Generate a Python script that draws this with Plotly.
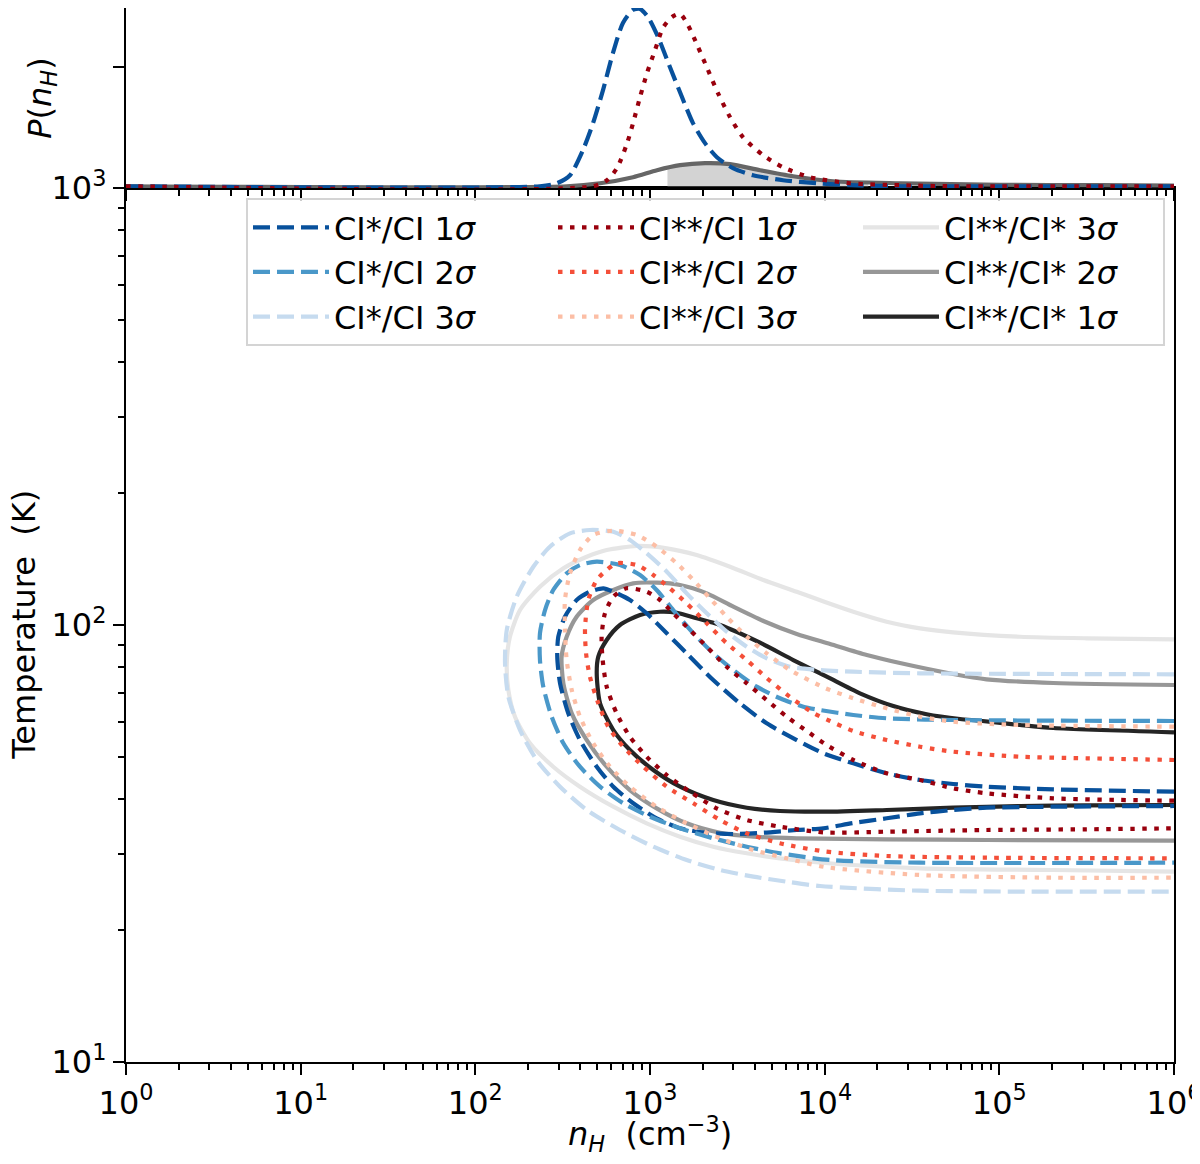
import numpy as np
import plotly.graph_objects as go

# ---- top panel: marginal P(n_H), log10(n_H) vs density
pb_lognh = [0.0, 2.370, 2.467, 2.542, 2.616, 2.674, 2.731, 2.788, 2.845, 2.902, 2.943, 2.988,
            3.046, 3.114, 3.183, 3.246, 3.315, 3.383, 3.475, 3.590, 3.761, 3.956, 4.145, 4.431, 6.0]
pb_p = [0, 0, 0.050, 0.185, 0.605, 1.059, 1.613, 2.235, 2.739, 2.958, 2.975, 2.840,
        2.504, 2.0, 1.496, 1.059, 0.723, 0.487, 0.303, 0.185, 0.101, 0.050, 0.017, 0, 0]

pr_lognh = [0.0, 2.674, 2.754, 2.811, 2.869, 2.903, 2.943, 2.983, 3.029, 3.074, 3.126, 3.172,
            3.217, 3.275, 3.332, 3.389, 3.458, 3.532, 3.647, 3.761, 3.916, 4.145, 4.431, 4.717, 6.0]
pr_p = [0, 0, 0.101, 0.303, 0.723, 1.059, 1.496, 1.899, 2.286, 2.655, 2.840, 2.891,
        2.706, 2.336, 1.950, 1.563, 1.160, 0.824, 0.521, 0.319, 0.151, 0.050, 0.017, 0, 0]

pg_lognh = [0.0, 2.525, 2.714, 2.903, 3.040, 3.172, 3.315, 3.458, 3.630, 3.819, 4.048, 4.431, 5.004, 5.576, 6.0]
pg_p = [0, 0, 0.050, 0.151, 0.269, 0.353, 0.387, 0.370, 0.269, 0.168, 0.084, 0.050, 0.025, 0.017, 0.012]

# shaded interval under the CI**/CI* marginal
pf_lognh = [3.10, 3.172, 3.315, 3.458, 3.630, 3.819, 4.048, 4.25]
pf_p = [0.31, 0.353, 0.387, 0.370, 0.269, 0.168, 0.084, 0.062]

# ---- contours: log10(n_H), log10(T)
b1_lognh = [6.0, 5.309, 4.927, 4.736, 4.546, 4.355, 4.164, 4.002, 3.840, 3.668, 3.515, 3.362, 3.210,
            3.096, 2.981, 2.885, 2.790, 2.733, 2.656, 2.580, 2.513, 2.475, 2.469, 2.485, 2.532, 2.599,
            2.695, 2.790, 2.904, 3.038, 3.172, 3.325, 3.477, 3.649, 3.840, 3.992, 4.162, 4.355, 4.546,
            4.734, 4.927, 5.307, 6.0]
b1_logt = [1.6185, 1.6240, 1.6300, 1.6362, 1.6453, 1.6606, 1.6835, 1.7048, 1.7368, 1.7750, 1.8208,
           1.8741, 1.9352, 1.9810, 2.0268, 2.0572, 2.0762, 2.0840, 2.0762, 2.0572, 2.0190, 1.9732,
           1.9275, 1.8666, 1.7979, 1.7368, 1.6757, 1.6300, 1.5920, 1.5577, 1.5348, 1.5247, 1.5217,
           1.5247, 1.5309, 1.5348, 1.5469, 1.5577, 1.5691, 1.5767, 1.5819, 1.5842, 1.5858]

b2_lognh = [6.0, 4.736, 4.355, 4.164, 3.973, 3.878, 3.744, 3.611, 3.477, 3.362, 3.248, 3.133, 3.038,
            2.943, 2.828, 2.695, 2.599, 2.523, 2.446, 2.399, 2.370, 2.370, 2.389, 2.437, 2.504, 2.599,
            2.714, 2.847, 3.000, 3.172, 3.362, 3.554, 3.744, 4.031, 4.546, 6.0]
b2_logt = [1.7803, 1.7826, 1.7865, 1.7941, 1.8055, 1.8130, 1.8323, 1.8589, 1.8970, 1.9352, 1.9810,
           2.0343, 2.0801, 2.1144, 2.1373, 2.1449, 2.1373, 2.1183, 2.0801, 2.0343, 1.9810, 1.9199,
           1.8589, 1.7902, 1.7293, 1.6757, 1.6300, 1.5920, 1.5613, 1.5348, 1.5119, 1.4927, 1.4776,
           1.4622, 1.4561, 1.4561]

b3_lognh = [6.0, 4.546, 4.162, 3.973, 3.802, 3.668, 3.554, 3.439, 3.325, 3.210, 3.096, 2.981, 2.885,
            2.790, 2.656, 2.542, 2.427, 2.332, 2.237, 2.180, 2.170, 2.189, 2.256, 2.351, 2.485, 2.638,
            2.828, 3.019, 3.210, 3.401, 3.592, 3.783, 3.973, 4.546, 6.0]
b3_logt = [1.8872, 1.8895, 1.8931, 1.8970, 1.9046, 1.9238, 1.9503, 1.9847, 2.0268, 2.0725, 2.1220,
           2.1641, 2.1945, 2.2135, 2.2174, 2.2098, 2.1792, 2.1334, 2.0648, 1.9886, 1.9124, 1.8359,
           1.7597, 1.6911, 1.6300, 1.5767, 1.5309, 1.4927, 1.4622, 1.4394, 1.4241, 1.4126, 1.4027,
           1.3920, 1.3897]

r1_lognh = [6.0, 5.309, 4.927, 4.736, 4.546, 4.355, 4.164, 4.002, 3.916, 3.783, 3.668, 3.554, 3.439,
            3.325, 3.229, 3.133, 3.057, 2.981, 2.866, 2.790, 2.742, 2.723, 2.729, 2.752, 2.809, 2.885,
            2.981, 3.096, 3.229, 3.381, 3.554, 3.744, 4.002, 4.355, 4.927, 5.500, 6.0]
r1_logt = [1.5979, 1.6034, 1.6149, 1.6263, 1.6453, 1.6606, 1.6911, 1.7277, 1.7522, 1.7902, 1.8284,
           1.8666, 1.9046, 1.9503, 1.9886, 2.0268, 2.0572, 2.0762, 2.0840, 2.0648, 2.0268, 1.9732,
           1.9199, 1.8589, 1.7979, 1.7444, 1.6986, 1.6567, 1.6185, 1.5805, 1.5538, 1.5384, 1.5252,
           1.5270, 1.5309, 1.5325, 1.5348]

r2_lognh = [6.0, 5.500, 5.118, 4.736, 4.546, 4.355, 4.164, 4.031, 3.935, 3.802, 3.668, 3.554, 3.439,
            3.325, 3.210, 3.114, 3.019, 2.924, 2.809, 2.752, 2.695, 2.647, 2.628, 2.634, 2.656, 2.704,
            2.761, 2.847, 2.962, 3.096, 3.248, 3.401, 3.554, 3.744, 4.002, 4.355, 4.927, 6.0]
r2_logt = [1.6911, 1.6950, 1.6986, 1.7101, 1.7215, 1.7368, 1.7574, 1.7803, 1.7986, 1.8352, 1.8787,
           1.9199, 1.9581, 2.0039, 2.0496, 2.0840, 2.1144, 2.1373, 2.1412, 2.1259, 2.1030, 2.0572,
           1.9924, 1.9352, 1.8817, 1.8208, 1.7673, 1.7215, 1.6757, 1.6300, 1.5920, 1.5538, 1.5233,
           1.5005, 1.4817, 1.4714, 1.4675, 1.4661]

r3_lognh = [6.0, 5.118, 4.736, 4.546, 4.355, 4.164, 4.002, 3.802, 3.668, 3.554, 3.439, 3.343, 3.248,
            3.153, 3.038, 2.924, 2.790, 2.675, 2.599, 2.542, 2.513, 2.513, 2.523, 2.552, 2.599, 2.675,
            2.771, 2.885, 3.038, 3.210, 3.401, 3.592, 3.783, 4.002, 4.546, 5.307, 6.0]
r3_logt = [1.7673, 1.7712, 1.7787, 1.7902, 1.8094, 1.8323, 1.8558, 1.8970, 1.9352, 1.9732, 2.0190,
           2.0611, 2.1030, 2.1412, 2.1792, 2.2059, 2.2158, 2.2059, 2.1716, 2.1183, 2.0572, 1.9886,
           1.9199, 1.8513, 1.7902, 1.7293, 1.6757, 1.6300, 1.5842, 1.5462, 1.5119, 1.4851, 1.4661,
           1.4462, 1.4279, 1.4218, 1.4218]

g3_lognh = [6.0, 5.500, 5.118, 4.736, 4.546, 4.355, 4.164, 4.002, 3.840, 3.649, 3.458, 3.267, 3.096,
            2.924, 2.752, 2.638, 2.504, 2.370, 2.256, 2.198, 2.180, 2.189, 2.227, 2.313, 2.446, 2.599,
            2.790, 2.981, 3.172, 3.362, 3.554, 3.744, 4.002, 4.546, 5.307, 6.0]
g3_logt = [1.9673, 1.9696, 1.9732, 1.9833, 1.9924, 2.0076, 2.0304, 2.0526, 2.0762, 2.1030, 2.1334,
           2.1602, 2.1755, 2.1808, 2.1716, 2.1563, 2.1297, 2.0876, 2.0343, 1.9732, 1.9124, 1.8513,
           1.7902, 1.7293, 1.6757, 1.6300, 1.5842, 1.5462, 1.5156, 1.4927, 1.4776, 1.4661, 1.4554,
           1.4433, 1.4394, 1.4355]

g2_lognh = [6.0, 5.309, 4.927, 4.736, 4.431, 4.241, 4.031, 3.840, 3.649, 3.477, 3.325, 3.172,
            3.038, 2.904, 2.790, 2.675, 2.580, 2.523, 2.494, 2.504, 2.552, 2.638, 2.752, 2.885, 3.038,
            3.210, 3.401, 3.592, 3.840, 4.355, 4.927, 6.0]
g2_logt = [1.8627, 1.8673, 1.8757, 1.8879, 1.9130, 1.9314, 1.9565, 1.9794, 2.0092, 2.0419,
           2.0725, 2.0915, 2.0968, 2.0954, 2.0801, 2.0572, 2.0190, 1.9732, 1.9275, 1.8666, 1.7979,
           1.7368, 1.6757, 1.6224, 1.5805, 1.5462, 1.5247, 1.5156, 1.5119, 1.5096, 1.5080, 1.5064]

g1_lognh = [6.0, 5.309, 5.118, 4.889, 4.775, 4.584, 4.393, 4.202, 4.012, 3.820, 3.630, 3.401,
            3.267, 3.153, 3.057, 2.943, 2.828, 2.752, 2.704, 2.695, 2.714, 2.790, 2.885, 3.019,
            3.172, 3.362, 3.554, 3.744, 4.002, 4.355, 4.736, 5.118, 5.500, 6.0]
g1_logt = [1.7545, 1.7643, 1.7712, 1.7810, 1.7849, 1.7957, 1.8146, 1.8437, 1.8817, 1.9199,
           1.9595, 2.0000, 2.0153, 2.0281, 2.0304, 2.0229, 2.0000, 1.9657, 1.9275, 1.8895,
           1.8208, 1.7597, 1.7140, 1.6682, 1.6300, 1.5995, 1.5819, 1.5744, 1.5728, 1.5767,
           1.5819, 1.5858, 1.5874, 1.5881]

x_tick_exp = [0, 1, 2, 3, 4, 5, 6]
y_tick_exp = [1, 2, 3]

FONT = "DejaVu Sans"
DASH = "17px,7px"
DOT = "4.5px,7.5px"
LW = 4.2

fig = go.Figure()

# draw order: greys, blues, reds ; legend order is row-major via legendrank
contours = [
    ("CI**/CI* 3<i>σ</i>", g3_lognh, g3_logt, "#e5e5e5", "solid", 3),
    ("CI**/CI* 2<i>σ</i>", g2_lognh, g2_logt, "#979797", "solid", 6),
    ("CI**/CI* 1<i>σ</i>", g1_lognh, g1_logt, "#252525", "solid", 9),
    ("CI*/CI 1<i>σ</i>", b1_lognh, b1_logt, "#08519c", DASH, 1),
    ("CI*/CI 2<i>σ</i>", b2_lognh, b2_logt, "#4a98c9", DASH, 4),
    ("CI*/CI 3<i>σ</i>", b3_lognh, b3_logt, "#c6dbef", DASH, 7),
    ("CI**/CI 1<i>σ</i>", r1_lognh, r1_logt, "#99000d", DOT, 2),
    ("CI**/CI 2<i>σ</i>", r2_lognh, r2_logt, "#f44f39", DOT, 5),
    ("CI**/CI 3<i>σ</i>", r3_lognh, r3_logt, "#fcbea5", DOT, 8),
]
for name, lx, lt, color, dash, rank in contours:
    fig.add_trace(go.Scatter(
        x=10 ** np.array(lx), y=10 ** np.array(lt), mode="lines", name=name,
        line=dict(color=color, width=LW, dash=dash, shape="spline", smoothing=0.7),
        legendrank=rank, xaxis="x", yaxis="y", hoverinfo="skip"))

# top panel
fig.add_trace(go.Scatter(x=10 ** np.array(pf_lognh), y=pf_p, mode="lines", fill="tozeroy",
                         fillcolor="#d3d3d3", line=dict(width=0, shape="spline"),
                         showlegend=False, xaxis="x2", yaxis="y2", hoverinfo="skip"))
fig.add_trace(go.Scatter(x=10 ** np.array(pg_lognh), y=pg_p, mode="lines",
                         line=dict(color="#666666", width=LW, shape="spline", smoothing=0.7),
                         showlegend=False, xaxis="x2", yaxis="y2", hoverinfo="skip"))
fig.add_trace(go.Scatter(x=10 ** np.array(pb_lognh), y=pb_p, mode="lines",
                         line=dict(color="#08519c", width=LW, dash=DASH, shape="spline", smoothing=0.7),
                         showlegend=False, xaxis="x2", yaxis="y2", hoverinfo="skip"))
fig.add_trace(go.Scatter(x=10 ** np.array(pr_lognh), y=pr_p, mode="lines",
                         line=dict(color="#99000d", width=LW, dash=DOT, shape="spline", smoothing=0.7),
                         showlegend=False, xaxis="x2", yaxis="y2", hoverinfo="skip"))

x_major = [10.0 ** e for e in x_tick_exp]
x_minor = [k * 10.0 ** e for e in x_tick_exp[:-1] for k in range(2, 10)]
y_major = [10.0 ** e for e in y_tick_exp]
y_minor = [k * 10.0 ** e for e in y_tick_exp[:-1] for k in range(2, 10)]

axis_common = dict(showgrid=False, zeroline=False, showline=True, linecolor="black",
                   linewidth=2.4, ticks="outside", ticklen=11, tickwidth=2.4,
                   tickcolor="black", tickfont=dict(family=FONT, size=32, color="black"))
minor_ticks = dict(ticks="outside", ticklen=6, tickwidth=1.8, tickcolor="black", showgrid=False)

# the page body adds an 8px margin, so the figure is 16px smaller than the window
fig.update_layout(
    template="none",
    width=1184, height=1148,
    margin=dict(l=118, r=18, t=0, b=94),
    plot_bgcolor="white", paper_bgcolor="white",
    font=dict(family=FONT, size=32, color="black"),
    xaxis=dict(**axis_common, type="log", range=[0, 6], domain=[0, 1], anchor="y",
               mirror=True, automargin=False, ticklabeloverflow="allow",
               tickvals=x_major, ticktext=[f"10<sup>{e}</sup>" for e in x_tick_exp],
               minor=dict(tickvals=x_minor, **minor_ticks)),
    yaxis=dict(**axis_common, type="log", range=[1, 3], domain=[0, 0.8292], anchor="x",
               mirror=True, automargin=False,
               tickvals=y_major, ticktext=[f"10<sup>{e}</sup>" for e in y_tick_exp],
               minor=dict(tickvals=y_minor, **minor_ticks)),
    xaxis2=dict(**axis_common, type="log", range=[0, 6], domain=[0, 1], anchor="y2",
                matches="x", showticklabels=False, automargin=False,
                tickvals=x_major, minor=dict(tickvals=x_minor, **minor_ticks)),
    yaxis2=dict(**axis_common, range=[-0.03, 2.99], domain=[0.8292, 1], anchor="x2",
                tickvals=[2], ticktext=[""], automargin=False,
                title=dict(text="<i>P</i>(<i>n</i><sub><i>H</i></sub>)",
                           font=dict(family=FONT, size=32))),
    legend=dict(orientation="h", x=0.1145, y=0.8197, xanchor="left", yanchor="top",
                entrywidth=214, entrywidthmode="pixels", itemwidth=76,
                bgcolor="rgba(255,255,255,0.8)", bordercolor="#d4d4d4", borderwidth=2,
                font=dict(family=FONT, size=32, color="black")),
)

# axis titles placed as annotations (standoff is ignored without automargin)
fig.add_annotation(text="<i>n</i><sub><i>H</i></sub>\u00a0 (cm<sup>−3</sup>)",
                   xref="paper", yref="paper", x=0.5, y=-0.0685,
                   xanchor="center", yanchor="middle", showarrow=False,
                   font=dict(family=FONT, size=32, color="black"))
fig.add_annotation(text="Temperature\u00a0 (K)", textangle=-90,
                   xref="paper", yref="paper", x=-0.0975, y=0.4146,
                   xanchor="center", yanchor="middle", showarrow=False,
                   font=dict(family=FONT, size=32, color="black"))

fig.write_html("out.html")
